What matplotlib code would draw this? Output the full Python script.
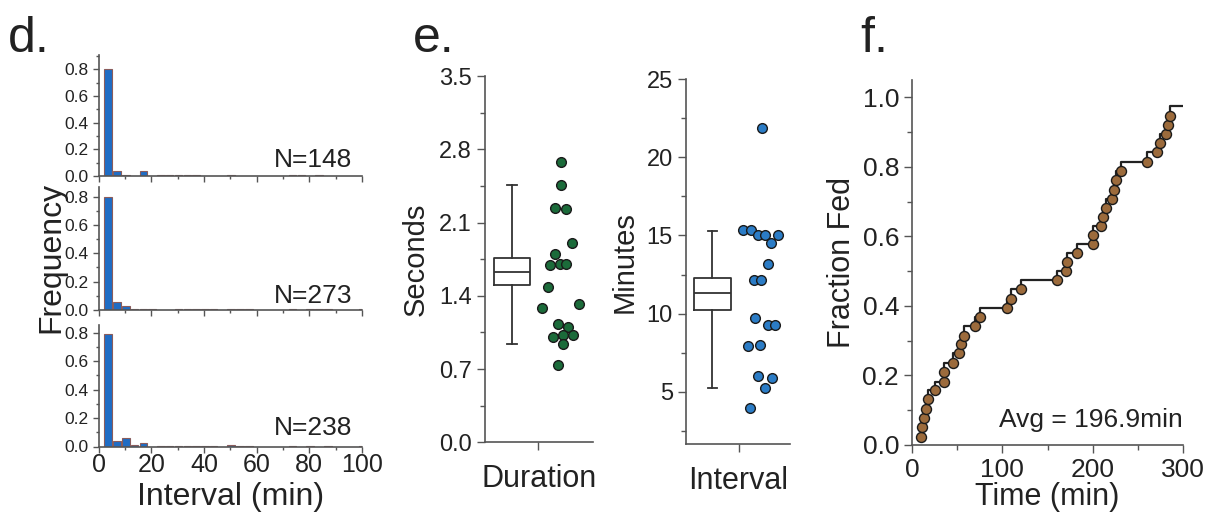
import matplotlib
matplotlib.use("Agg")
import matplotlib.pyplot as plt
from matplotlib.ticker import MultipleLocator

plt.rcParams['font.family'] = ['Liberation Sans', 'DejaVu Sans']

# ---- panel d: interval histograms (bins of 10/3 min starting at 2 min) ----
bin_start = 2.0
bin_width = 10.0 / 3.0
freq_148 = [0.80, 0.034, 0.007, 0, 0.041, 0, 0.007, 0.007, 0.007, 0.007,
            0.007, 0, 0, 0, 0.007, 0, 0, 0, 0, 0,
            0, 0.007, 0.007, 0, 0.007, 0, 0, 0, 0, 0]
freq_273 = [0.80, 0.054, 0.031, 0.004, 0.004, 0.004, 0, 0, 0.007, 0.004,
            0.004, 0.007, 0.004, 0, 0.004, 0.004, 0.004, 0, 0, 0,
            0, 0.004, 0, 0.004, 0.004, 0.004, 0, 0, 0, 0.004]
freq_238 = [0.79, 0.037, 0.058, 0.014, 0.023, 0, 0.004, 0.004, 0.004, 0.004,
            0.004, 0.004, 0.004, 0, 0.013, 0.004, 0.004, 0, 0, 0,
            0, 0.004, 0, 0.004, 0, 0.004, 0, 0, 0, 0.004]
hist_labels = ['N=148', 'N=273', 'N=238']

# ---- panel e: duration (s) and interval (min) ----
duration_vals = [2.68, 2.46, 2.24, 2.23, 1.90, 1.80, 1.69, 1.70, 1.70, 1.48,
                 1.28, 1.32, 1.13, 1.10, 1.01, 1.03, 1.03, 0.94, 0.74]
duration_x = [2.02, 2.02, 1.90, 2.12, 2.24, 1.90, 1.79, 2.00, 2.12, 1.74,
              1.63, 2.40, 1.96, 2.17, 1.85, 2.07, 2.28, 2.07, 1.96]
duration_box = dict(whislo=0.94, q1=1.50, med=1.63, q3=1.76, whishi=2.46)

interval_vals = [21.88, 15.35, 15.35, 15.0, 15.0, 14.53, 15.0, 13.19, 12.18, 12.18,
                 9.70, 9.29, 9.29, 7.95, 8.01, 6.03, 5.88, 5.24, 3.94]
interval_x = [2.03, 1.64, 1.80, 1.94, 2.09, 2.22, 2.37, 2.16, 1.86, 2.01,
              1.88, 2.15, 2.30, 1.73, 2.00, 1.94, 2.23, 2.09, 1.79]
interval_box = dict(whislo=5.24, q1=10.23, med=11.3, q3=12.3, whishi=15.3)

# ---- panel f: cumulative fraction fed ----
fed_time = [9.6, 11.1, 12.9, 15.2, 17.8, 25.2, 35.1, 35.1, 44.8, 51.8,
            53.6, 57.7, 69.6, 75.5, 104.7, 109.1, 120.2, 160.2, 170.2, 171.3,
            182.4, 200.2, 200.2, 209.8, 211.2, 215.0, 222.0, 224.3, 226.0, 231.6,
            260.0, 272.0, 274.9, 281.5, 284.1, 286.0]
fed_frac = [0.024, 0.051, 0.079, 0.105, 0.131, 0.158, 0.182, 0.209, 0.237, 0.264,
            0.290, 0.315, 0.342, 0.369, 0.393, 0.421, 0.448, 0.475, 0.500, 0.527,
            0.553, 0.578, 0.604, 0.631, 0.657, 0.683, 0.709, 0.735, 0.762, 0.788,
            0.813, 0.842, 0.868, 0.894, 0.920, 0.946]
end_time = 300.0
end_frac = 0.974

spine_col = '#555555'
text_col = '#222222'
bar_blue = '#1f6cc4'
bar_edge = '#8a5c5c'
green = '#1b6b3a'
blue = '#2b7cc6'
brown = '#9c6b3c'

W, H = 1214, 517
fig = plt.figure(figsize=(W / 100, H / 100), dpi=100)


def px_axes(left, top, right, bottom):
    return fig.add_axes([left / W, 1 - bottom / H, (right - left) / W, (bottom - top) / H])


def style(ax, major_len, lab):
    for s in ['top', 'right']:
        ax.spines[s].set_visible(False)
    for s in ['left', 'bottom']:
        ax.spines[s].set_color(spine_col)
        ax.spines[s].set_linewidth(1.2)
    ax.tick_params(which='major', direction='out', length=major_len, width=1,
                   color=spine_col, labelsize=lab, labelcolor=text_col)
    ax.tick_params(which='minor', direction='out', length=major_len * 0.55, width=1,
                   color=spine_col)


# panel d
hist_boxes = [(98.6, 55, 362, 176), (98.6, 186.7, 362, 310), (98.6, 325, 362, 446.5)]
hist_top = [0.907, 0.87, 0.854]
hist_ypos = [0.12, 0.10, 0.128]
for k, freqs in enumerate([freq_148, freq_273, freq_238]):
    ax = px_axes(*hist_boxes[k])
    centers = [bin_start + bin_width * (i + 0.5) for i in range(len(freqs))]
    xs = [c for c, f in zip(centers, freqs) if f > 0]
    hs = [f for f in freqs if f > 0]
    ax.bar(xs, hs, width=bin_width * 0.86, color=bar_blue, edgecolor=bar_edge, linewidth=0.8)
    ax.set_xlim(0, 100)
    ax.set_ylim(0, hist_top[k])
    style(ax, 4, 12.5)
    ax.yaxis.set_major_locator(MultipleLocator(0.2))
    ax.yaxis.set_minor_locator(MultipleLocator(0.1))
    ax.xaxis.set_major_locator(MultipleLocator(20))
    ax.xaxis.set_minor_locator(MultipleLocator(10))
    ax.set_yticklabels([f'{v:.1f}' for v in ax.get_yticks()])
    ax.text(96.4, hist_ypos[k], hist_labels[k], ha='right', va='center', fontsize=19, color=text_col)
    if k < 2:
        ax.tick_params(axis='x', labelbottom=False)
    else:
        ax.tick_params(axis='x', labelsize=18, pad=1)
        ax.set_xlabel('Interval (min)', fontsize=23, color=text_col, labelpad=3)
fig.text(51 / W, 1 - 257 / H, 'Frequency', rotation=90, ha='center', va='center',
         fontsize=23, color=text_col)


def box_scatter(ax, stats, xs, vals, col, label):
    st = dict(stats)
    st['label'] = ''
    ax.bxp([st], positions=[1], widths=0.77, showfliers=False, patch_artist=False,
           boxprops=dict(color='#333333', linewidth=1.3),
           medianprops=dict(color='#333333', linewidth=1.3),
           whiskerprops=dict(color='#333333', linewidth=1.3),
           capprops=dict(color='#333333', linewidth=1.3), capwidths=0.2)
    ax.plot(xs, vals, 'o', ms=7, mfc=col, mec='#1a1a1a', mew=1.0, ls='none')
    ax.set_xticks([1.55])
    ax.set_xticklabels([''])
    ax.set_xlabel(label, fontsize=22, color=text_col, labelpad=6)


# panel e left
ax = px_axes(485, 76, 593, 442.3)
box_scatter(ax, duration_box, duration_x, duration_vals, green, 'Duration')
ax.set_xlim(0.4375, 2.6875)
ax.set_ylim(0, 3.5)
style(ax, 6, 17)
ax.yaxis.set_major_locator(MultipleLocator(0.7))
ax.yaxis.set_minor_locator(MultipleLocator(0.35))
ax.set_yticklabels([f'{v:.1f}' for v in ax.get_yticks()])
ax.set_ylabel('Seconds', fontsize=21, color=text_col, labelpad=7)

# panel e right
ax = px_axes(686, 79, 790, 444.3)
box_scatter(ax, interval_box, interval_x, interval_vals, blue, 'Interval')
ax.set_xlim(0.448, 2.615)
ax.set_ylim(1.65, 25)
style(ax, 6, 17)
ax.yaxis.set_major_locator(MultipleLocator(5))
ax.yaxis.set_minor_locator(MultipleLocator(2.5))
ax.set_ylabel('Minutes', fontsize=21, color=text_col, labelpad=6)

# panel f
ax = px_axes(912.3, 80, 1182.7, 445)
ax.plot(fed_time + [end_time], fed_frac + [end_frac], drawstyle='steps-pre',
        color='#222222', lw=1.6)
ax.plot(fed_time, fed_frac, 'o', ms=7.2, mfc=brown, mec='#1a1a1a', mew=1.0, ls='none')
ax.set_xlim(0, 300)
ax.set_ylim(0, 1.05)
style(ax, 6, 19)
ax.yaxis.set_major_locator(MultipleLocator(0.2))
ax.yaxis.set_minor_locator(MultipleLocator(0.1))
ax.xaxis.set_major_locator(MultipleLocator(100))
ax.xaxis.set_minor_locator(MultipleLocator(50))
ax.set_yticklabels([f'{v:.1f}' for v in ax.get_yticks()])
ax.set_xlabel('Time (min)', fontsize=22, color=text_col, labelpad=0)
ax.set_ylabel('Fraction Fed', fontsize=22, color=text_col, labelpad=4)
ax.text(300, 0.072, 'Avg = 196.9min', ha='right', va='center', fontsize=19, color=text_col)

# panel letters
for x, s in [(8, 'd.'), (413, 'e.'), (860, 'f.')]:
    fig.text(x / W, 1 - 52 / H, s, fontsize=36, color=text_col, ha='left', va='baseline')

fig.savefig('out.png', dpi=100)
